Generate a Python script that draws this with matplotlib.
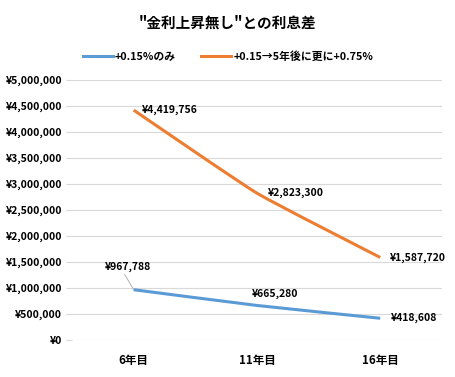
import matplotlib.pyplot as plt
from matplotlib.path import Path
from matplotlib.patches import PathPatch
from matplotlib.lines import Line2D

plt.rcParams['font.family'] = ['Noto Sans CJK JP', 'DejaVu Sans']

categories = ['6年目', '11年目', '16年目']
only_015 = [967788, 665280, 418608]
plus_075 = [4419756, 2823300, 1587720]
series_names = ['+0.15%のみ', '+0.15→5年後に更に+0.75%']
colors = ['#5B9BD5', '#ED7D31']
yticks = list(range(0, 5000001, 500000))


def smooth_path(xs, ys, k=1 / 14):
    """Lightly smoothed line: cubic bezier with catmull-rom style control points."""
    pts = list(zip(xs, ys))
    verts = [pts[0]]
    codes = [Path.MOVETO]
    n = len(pts)
    for i in range(n - 1):
        p0 = pts[max(i - 1, 0)]
        p1 = pts[i]
        p2 = pts[i + 1]
        p3 = pts[min(i + 2, n - 1)]
        c1 = (p1[0] + (p2[0] - p0[0]) * k, p1[1] + (p2[1] - p0[1]) * k)
        c2 = (p2[0] - (p3[0] - p1[0]) * k, p2[1] - (p3[1] - p1[1]) * k)
        verts += [c1, c2, p2]
        codes += [Path.CURVE4] * 3
    return Path(verts, codes)


fig = plt.figure(figsize=(4.56, 3.77), dpi=100)
ax = fig.add_axes([0.158, 0.098, 0.811, 0.69])

x = list(range(len(categories)))
handles = []
for vals, c, name in zip([only_015, plus_075], colors, series_names):
    ax.add_patch(PathPatch(smooth_path(x, vals), fc='none', ec=c, lw=2.2, capstyle='butt'))
    handles.append(Line2D([], [], color=c, lw=2.2, label=name))

ax.set_xlim(-0.5, 2.5)
ax.set_ylim(0, 5000000)
ax.set_yticks(yticks)
ax.set_yticklabels(['¥{:,}'.format(v) for v in yticks])
ax.set_xticks(x)
ax.set_xticklabels(categories)
ax.grid(axis='y', color='#D9D9D9', lw=0.8)
ax.set_axisbelow(True)
for s in ax.spines.values():
    s.set_visible(False)
ax.tick_params(axis='y', length=4, color='#D9D9D9', labelsize=7.5, pad=3)
ax.tick_params(axis='x', length=0, labelsize=8.3, pad=10)
for lab in ax.get_xticklabels() + ax.get_yticklabels():
    lab.set_fontweight('bold')

fmt = lambda v: '¥{:,}'.format(v)
kw = dict(textcoords='offset points', fontsize=7.5, fontweight='bold')
# orange labels
ax.annotate(fmt(plus_075[0]), (0, plus_075[0]), xytext=(6, 0), ha='left', va='center', **kw)
ax.annotate(fmt(plus_075[1]), (1, plus_075[1]), xytext=(8, 0), ha='left', va='center', **kw)
ax.annotate(fmt(plus_075[2]), (2, plus_075[2]), xytext=(7, 0), ha='left', va='center', **kw)
# blue labels
ax.annotate(fmt(only_015[0]), (0, only_015[0]), xytext=(-21, 13), ha='left', va='bottom',
            arrowprops=dict(arrowstyle='-', color='#A6A6A6', lw=0.6, shrinkA=0, shrinkB=0,
                            relpos=(0.4, 0)), **kw)
ax.annotate(fmt(only_015[1]), (1, only_015[1]), xytext=(-4, 8), ha='left', va='center', **kw)
ax.annotate(fmt(only_015[2]), (2, only_015[2]), xytext=(8, 0), ha='left', va='center', **kw)

fig.text(0.5, 0.94, '"金利上昇無し"との利息差', ha='center', va='center', fontsize=10.5, fontweight='bold')
fig.legend(handles=handles, loc='center', bbox_to_anchor=(0.5, 0.85), ncol=2, frameon=False,
           prop={'size': 7.8, 'weight': 'bold'}, handlelength=2.8, columnspacing=2.3, handletextpad=0.2)

fig.savefig('out.png', dpi=100)
